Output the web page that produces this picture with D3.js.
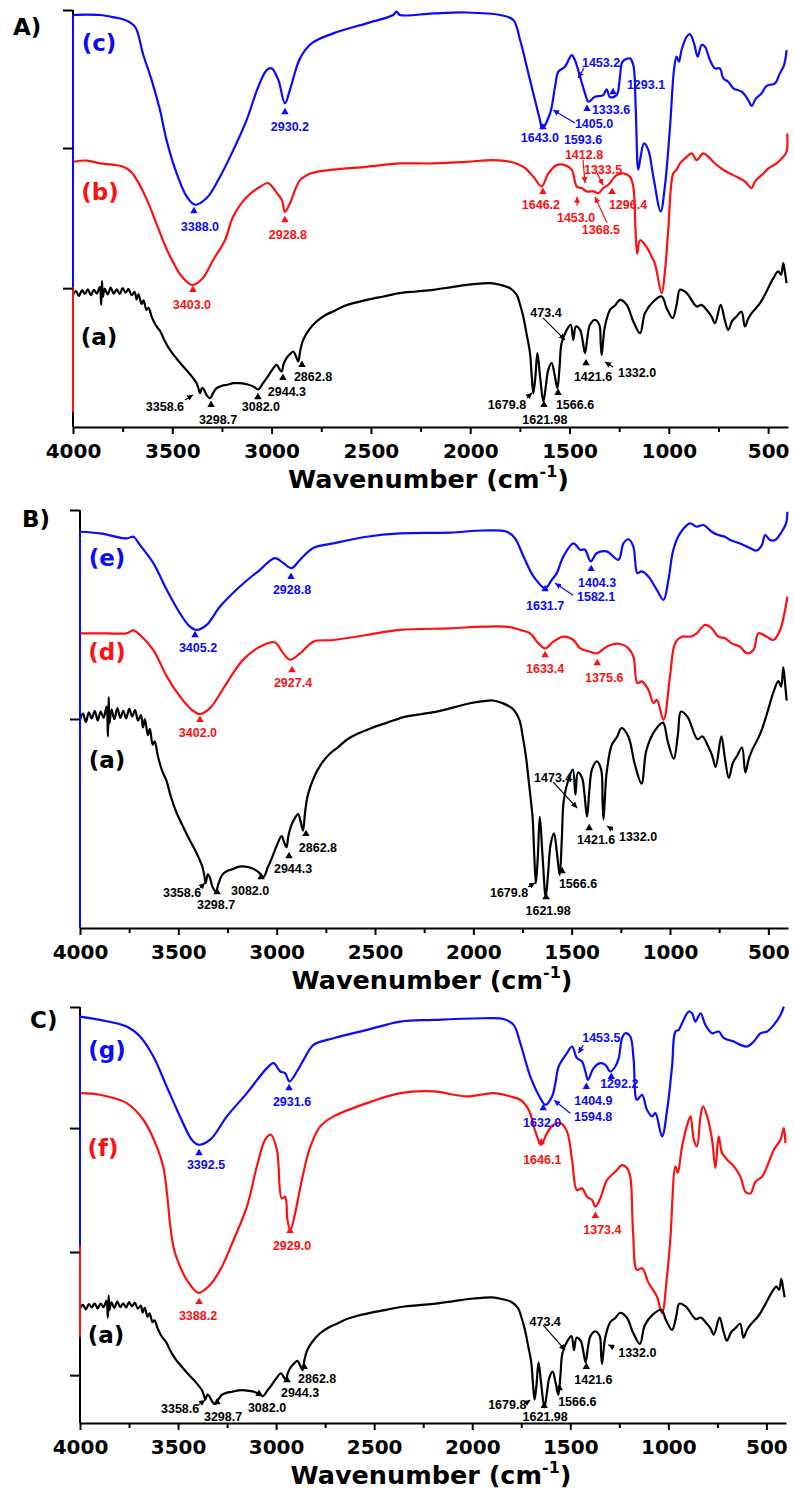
<!DOCTYPE html>
<html>
<head>
<meta charset="utf-8">
<script src="https://cdn.jsdelivr.net/npm/d3@7/dist/d3.min.js"></script>
<style>
body{margin:0;background:#fff}
svg{display:block}
</style>
</head>
<body>
<svg id="fig" width="793" height="1497"></svg>
<script>
// ---- spectra: [wavenumber cm-1, transmittance (a.u., stacked)] ----
// (a) shared reference spectrum, shown in all three panels
var specA = [[4000,31.7],[3985,32.6],[3970,31.4],[3955,32.8],[3940,31.9],[3925,33.0],[3910,31.6],[3895,32.9],[3880,32.0],[3865,33.6],[3858,29.3],[3854,35.0],[3850,31.2],[3840,33.2],[3825,31.8],[3810,33.4],[3795,32.0],[3780,33.0],[3765,31.9],[3750,33.3],[3735,32.2],[3720,33.1],[3705,31.6],[3690,32.4],[3680,30.6],[3670,31.8],[3655,29.5],[3645,30.4],[3630,28.1],[3620,28.6],[3605,26.6],[3590,25.0],[3579,24.1],[3560,22.9],[3540,20.8],[3512,18.5],[3480,16.5],[3445,14.5],[3410,12.6],[3378,10.5],[3368,9.2],[3361,8.1],[3350,9.4],[3341,9.0],[3325,7.5],[3310,6.9],[3295,8.1],[3277,9.3],[3250,9.9],[3227,10.1],[3190,10.5],[3160,10.5],[3120,10.2],[3092,9.7],[3067,9.0],[3045,10.4],[3025,11.7],[3000,13.5],[2975,14.9],[2962,14.0],[2950,13.3],[2940,15.0],[2925,16.5],[2905,17.6],[2891,18.1],[2878,17.0],[2866,15.7],[2855,18.5],[2841,20.9],[2810,23.4],[2774,25.3],[2730,26.8],[2690,27.7],[2640,28.9],[2589,29.7],[2520,30.5],[2438,31.3],[2354,32.1],[2270,32.5],[2186,32.9],[2100,33.5],[2018,34.1],[1950,34.4],[1900,34.5],[1850,34.1],[1800,33.3],[1766,31.7],[1750,29.5],[1733,26.5],[1715,22.0],[1699,17.7],[1690,12.0],[1682,8.1],[1672,12.0],[1662,17.7],[1648,12.0],[1632,6.1],[1620,9.5],[1607,13.7],[1590,15.3],[1575,12.5],[1561,9.3],[1550,14.5],[1540,20.1],[1514,23.3],[1494,24.5],[1481,20.9],[1468,24.1],[1447,23.3],[1435,21.0],[1422,17.7],[1410,21.5],[1397,24.5],[1372,25.7],[1350,24.5],[1343,20.0],[1338,17.3],[1330,21.0],[1322,24.1],[1296,28.1],[1270,29.2],[1246,30.5],[1212,29.3],[1179,25.3],[1145,22.5],[1120,27.3],[1078,30.1],[1036,31.3],[1011,28.5],[981,26.1],[960,29.5],[944,32.9],[910,32.1],[860,28.9],[835,29.3],[810,28.1],[785,26.5],[768,24.9],[739,29.3],[720,26.0],[701,23.3],[680,25.5],[659,26.5],[634,27.7],[617,24.1],[600,26.0],[583,27.3],[541,29.7],[508,32.5],[474,35.7],[449,37.3],[435,36.5],[424,39.3],[415,37.0],[407,34.5]];

var specB = [[4000,63.6],[3930,63.9],[3864,63.2],[3800,62.9],[3747,62.4],[3710,61.3],[3678,59.2],[3627,54.4],[3577,48.4],[3537,43.6],[3497,39.6],[3451,36.0],[3401,34.1],[3350,35.5],[3295,40.0],[3235,44.8],[3194,50.4],[3124,55.2],[3058,57.6],[3018,58.5],[2973,56.1],[2948,54.4],[2933,51.6],[2907,53.7],[2857,59.2],[2797,60.9],[2690,61.7],[2522,62.4],[2354,63.2],[2186,63.2],[2018,63.6],[1884,64.0],[1800,63.6],[1733,62.4],[1682,60.0],[1640,57.7],[1607,60.8],[1565,62.8],[1523,62.8],[1489,61.7],[1464,57.7],[1439,57.3],[1414,56.5],[1380,56.5],[1355,56.1],[1330,57.3],[1305,58.1],[1263,60.4],[1229,60.8],[1196,60.0],[1179,57.7],[1168,47.5],[1159,41.6],[1145,44.8],[1112,43.2],[1087,40.9],[1070,39.2],[1036,32.1],[1019,37.7],[1003,47.2],[978,60.8],[961,61.7],[944,63.2],[910,64.8],[885,65.6],[860,64.0],[827,65.6],[801,64.8],[768,63.2],[726,61.7],[692,60.8],[659,60.0],[617,58.9],[583,57.3],[566,58.9],[524,60.8],[499,62.0],[457,63.2],[424,64.8],[407,66.0],[404,70.4]];

var specC = [[4000,98.8],[3930,98.9],[3864,98.8],[3800,98.3],[3738,97.6],[3688,96.0],[3646,89.2],[3604,83.2],[3562,76.0],[3529,68.8],[3478,60.8],[3428,55.3],[3386,53.3],[3327,54.9],[3260,60.0],[3193,66.4],[3126,73.6],[3067,81.6],[3025,85.6],[3000,86.0],[2966,83.2],[2933,77.6],[2908,80.8],[2857,88.4],[2799,92.0],[2690,94.4],[2522,96.8],[2388,98.8],[2371,99.6],[2354,98.8],[2186,99.2],[2018,99.4],[1850,98.8],[1783,97.6],[1749,92.8],[1699,83.2],[1649,73.6],[1638,71.6],[1598,75.2],[1573,81.6],[1556,85.2],[1523,86.4],[1489,89.2],[1473,88.0],[1447,84.0],[1422,80.0],[1405,78.0],[1372,79.2],[1330,79.6],[1313,81.0],[1296,79.1],[1263,79.6],[1246,84.0],[1233,87.6],[1196,88.4],[1179,86.8],[1167,76.8],[1154,61.7],[1142,64.8],[1125,68.0],[1103,66.4],[1078,60.0],[1041,51.7],[1020,57.7],[994,72.0],[974,85.6],[961,88.8],[949,87.6],[936,90.4],[910,93.6],[894,94.2],[873,92.0],[855,88.8],[835,91.6],[818,91.2],[793,88.0],[768,86.0],[743,86.0],[726,83.6],[701,82.8],[675,81.2],[633,80.4],[600,78.4],[583,77.0],[561,78.8],[533,80.0],[508,81.8],[466,82.4],[441,84.8],[420,86.8],[407,90.4]];

var specD = [[4000,70.5],[3864,70.5],[3763,70.5],[3729,71.2],[3695,70.1],[3627,66.5],[3559,60.2],[3492,55.4],[3432,52.2],[3390,51.2],[3339,52.6],[3254,58.6],[3170,64.2],[3068,67.7],[3009,68.3],[2966,65.7],[2932,64.2],[2881,65.7],[2814,68.5],[2712,68.9],[2542,70.1],[2373,71.3],[2118,71.7],[1949,72.1],[1813,72.0],[1762,71.3],[1711,70.5],[1669,68.1],[1635,66.9],[1593,68.5],[1542,69.7],[1491,68.9],[1457,66.9],[1406,66.1],[1372,65.7],[1322,67.3],[1262,68.0],[1211,66.9],[1186,64.9],[1166,58.6],[1144,59.0],[1110,57.0],[1084,53.8],[1067,54.6],[1033,49.8],[1000,60.2],[974,68.1],[940,69.7],[898,69.7],[864,70.5],[822,72.5],[788,71.7],[754,69.7],[720,69.3],[686,68.1],[644,67.3],[610,65.7],[576,66.5],[550,70.5],[508,69.7],[474,68.9],[440,71.3],[415,76.1],[403,79.3]];

var specE = [[4000,94.8],[3898,94.4],[3763,93.2],[3729,93.6],[3695,91.6],[3627,87.3],[3559,80.9],[3492,75.3],[3441,72.1],[3407,71.3],[3356,72.5],[3288,76.9],[3187,81.7],[3085,85.7],[3009,88.5],[2966,87.3],[2924,86.1],[2881,88.1],[2814,90.9],[2712,92.0],[2542,93.6],[2373,94.4],[2118,94.6],[1949,95.1],[1830,94.8],[1788,93.2],[1745,88.9],[1694,84.1],[1635,81.3],[1601,83.3],[1576,84.9],[1542,88.9],[1491,92.0],[1457,90.5],[1432,90.5],[1403,87.7],[1372,89.7],[1322,90.1],[1262,88.1],[1237,92.0],[1211,93.0],[1186,91.2],[1166,84.9],[1144,85.3],[1110,84.1],[1067,80.9],[1033,78.5],[1008,83.3],[983,90.5],[949,94.4],[898,96.8],[864,96.0],[830,96.4],[788,94.8],[754,94.0],[720,93.6],[694,92.8],[644,92.0],[593,90.9],[559,90.3],[533,91.6],[516,94.0],[491,92.8],[466,92.8],[432,94.8],[410,96.8],[403,99.6]];

var specF = [[4000,79.3],[3898,78.9],[3762,76.9],[3677,72.9],[3609,66.5],[3575,61.5],[3556,55.0],[3540,47.5],[3522,42.0],[3500,38.8],[3470,35.6],[3438,33.2],[3396,31.3],[3345,32.8],[3285,36.8],[3217,44.0],[3149,52.0],[3098,61.7],[3056,68.1],[3027,69.3],[2996,65.7],[2971,54.0],[2954,54.4],[2942,48.8],[2928,46.4],[2903,50.4],[2869,58.4],[2826,66.4],[2775,71.3],[2707,73.7],[2537,76.9],[2367,79.3],[2197,79.7],[2027,78.5],[1891,79.3],[1806,78.5],[1755,77.7],[1712,75.3],[1678,70.1],[1649,66.9],[1619,69.7],[1585,71.7],[1551,72.1],[1517,70.1],[1491,63.3],[1466,56.0],[1440,56.4],[1415,54.4],[1389,53.6],[1372,52.0],[1347,54.0],[1313,58.4],[1270,60.4],[1236,62.0],[1211,61.3],[1194,59.2],[1180,46.0],[1160,36.8],[1134,37.2],[1100,33.6],[1078,32.0],[1058,30.4],[1032,26.4],[1007,35.2],[990,44.0],[964,61.7],[952,60.1],[930,66.5],[901,72.1],[887,73.7],[870,68.1],[854,66.5],[836,73.7],[823,76.1],[802,73.7],[777,68.1],[760,61.3],[743,68.9],[726,64.9],[700,63.3],[666,61.7],[632,59.2],[607,55.6],[581,55.2],[556,58.0],[522,59.2],[496,61.7],[462,65.7],[428,68.1],[411,70.9],[403,67.3]];

var specG = [[4000,97.7],[3898,96.9],[3762,95.3],[3694,92.9],[3626,88.1],[3558,80.9],[3490,73.7],[3430,68.1],[3396,66.9],[3336,68.1],[3251,73.7],[3149,79.3],[3047,85.3],[3013,86.5],[2979,84.5],[2954,84.1],[2932,82.1],[2894,84.5],[2860,87.3],[2809,90.9],[2707,92.5],[2537,94.5],[2367,96.5],[2197,96.9],[1942,97.3],[1840,97.1],[1789,95.7],[1755,91.3],[1704,83.3],[1653,78.1],[1627,76.5],[1593,78.5],[1576,81.7],[1559,85.7],[1517,88.9],[1491,90.5],[1466,87.7],[1440,86.9],[1423,84.5],[1410,82.5],[1381,85.3],[1347,86.5],[1321,86.1],[1296,84.5],[1270,85.7],[1253,87.7],[1236,92.5],[1219,93.7],[1194,92.9],[1177,87.3],[1160,77.7],[1134,78.9],[1109,75.3],[1083,73.7],[1066,74.5],[1032,68.9],[1006,75.3],[981,85.7],[964,94.1],[947,94.5],[930,96.1],[896,98.9],[879,98.5],[862,96.5],[836,98.5],[811,95.7],[777,93.7],[743,94.1],[717,92.5],[666,91.7],[632,90.9],[598,90.5],[564,91.7],[530,93.7],[496,94.1],[462,95.7],[428,98.1],[411,100.1]];

// axis ticks
var xMajor = [4000,3500,3000,2500,2000,1500,1000,500];
var xMinor = [3750,3250,2750,2250,1750,1250,750];

// peak labels: [text, colour, kind, wn, value, dx, dy, ax, ay]
var notesA = [
  ["3388.0","b","tri",3391,51.8,6,16],
  ["2930.2","b","tri",2933,75.5,5,15],
  ["1643.0","b","tri",1634,71.9,-3,11],
  ["1405.0","b","arr",1583,76.0,41,14,22,13],
  ["1593.6","b","txt",1583,76.0,30,30],
  ["1333.6","b","tri",1412,76.3,24,1],
  ["1453.2","b","arr",1457,83.7,23,-15,6,-10],
  ["1293.1","b","tri",1281,80.3,33,-7],
  ["3403.0","r","tri",3396,32.9,-1,15],
  ["2928.8","r","tri",2933,49.6,3,15],
  ["1646.2","r","tri",1634,56.4,-2,13],
  ["1453.0","r","arr",1462,55.2,-1,21,0,9],
  ["1412.8","r","arr",1422,58.5,-1,-28,-2,-23],
  ["1333.5","r","arr",1331,58.0,0,-15,-6,-12],
  ["1368.5","r","arr",1372,55.2,6,33,12,26],
  ["1296.4","r","tri",1286,56.4,16,13],
  ["3358.6","k","arr",3396,7.7,-28,12,-8,5],
  ["3298.7","k","tri",3305,5.3,7,15],
  ["3082.0","k","tri",3069,7.2,3,10],
  ["2944.3","k","tri",2943,11.8,4,14],
  ["2862.8","k","tri",2847,14.9,11,12],
  ["473.4","k","arr",1523,20.9,-19,-27,-22,-22],
  ["1679.8","k","arr",1689,8.2,-25,12,-5,5],
  ["1621.98","k","tri",1629,5.3,1,15],
  ["1566.6","k","tri",1558,8.2,17,12],
  ["1421.6","k","tri",1417,15.3,7,14],
  ["1332.0","k","arr",1321,15.6,32,11,8,5]
];
var notesB = [
  ["3405.2","b","tri",3415,70.1,3,13],
  ["2928.8","b","tri",2927,84.0,1,13],
  ["1631.7","b","tri",1635,81.1,0,17],
  ["1582.1","b","arr",1584,82.5,41,14,18,12],
  ["1404.3","b","tri",1401,85.9,6,14],
  ["3402.0","r","tri",3390,49.8,-2,13],
  ["2927.4","r","tri",2922,61.7,1,13],
  ["1633.4","r","tri",1635,65.3,0,14],
  ["1375.6","r","tri",1370,63.4,7,15],
  ["3358.6","k","arr",3364,10.8,-23,10,-5,5],
  ["3298.7","k","tri",3303,8.6,-1,13],
  ["3082.0","k","tri",3079,12.2,-11,14],
  ["2944.3","k","tri",2937,17.2,4,13],
  ["2862.8","k","tri",2851,22.5,12,14],
  ["1473.4","k","arr",1472,28.7,-24,-30,-24,-26],
  ["1421.6","k","tri",1411,23.9,7,12],
  ["1332.0","k","arr",1320,24.4,31,11,6,4],
  ["1679.8","k","arr",1686,10.8,-26,10,-7,4],
  ["1621.98","k","tri",1630,7.4,2,14],
  ["1566.6","k","tri",1549,13.6,16,13]
];
var notesC = [
  ["3392.5","b","tri",3393,64.9,7,12],
  ["2931.6","b","tri",2934,80.5,3,14],
  ["1632.0","b","tri",1638,75.7,-1,15],
  ["1594.8","b","arr",1582,77.6,39,17,16,13],
  ["1404.9","b","tri",1418,80.8,7,14],
  ["1292.2","b","tri",1291,83.2,8,7],
  ["1453.5","b","arr",1459,88.9,23,-15,5,-8],
  ["2929.0","r","tri",2929,46.2,2,15],
  ["3388.2","r","tri",3393,29.1,-1,14],
  ["1646.1","r","tri",1648,67.5,1,18],
  ["1373.4","r","tri",1372,49.8,7,14],
  ["3358.6","k","arr",3362,5.5,-25,9,-7,5],
  ["3298.7","k","tri",3301,5.0,6,15],
  ["3082.0","k","tri",3087,7.0,8,14],
  ["2944.3","k","tri",2944,10.3,13,13],
  ["2862.8","k","tri",2857,13.5,13,12],
  ["473.4","k","arr",1526,17.5,-20,-28,-22,-25],
  ["1332.0","k","arr",1306,18.8,29,8,6,3],
  ["1421.6","k","tri",1418,13.5,7,13],
  ["1566.6","k","tri",1556,8.4,18,14],
  ["1679.8","k","arr",1704,5.5,-23,5,-6,4],
  ["1621.98","k","tri",1633,4.1,1,11]
];

var COL = {b:"#0a0aff", r:"#ff1010", k:"#000"};
var labelFont = "'DejaVu Sans', sans-serif";
var noteFont = "'Liberation Sans', Arial, sans-serif";

// panel layout
var panels = [
  {name:"A)", nx:13, ny:35, left:73, right:788, top:10, base:427, yTicks:[100,66.9,33.3],
   seg:[[100,98.8,"k"],[98.8,33.6,"b"],[33.6,3.6,"r"],[3.6,0,"k"]], aK:1, aS:0,
   curves:[[specC,"b","(c)",99,43],[specB,"r","(b)",100,192],[specA,"k","(a)",99,337]], notes:notesA},
  {name:"B)", nx:22, ny:527, left:80, right:788, top:510, base:928, yTicks:[100,50],
   seg:[[100,95.2,"k"],[95.2,0,"b"]], aK:1.656, aS:-2.7,
   curves:[[specE,"b","(e)",107,558],[specD,"r","(d)",107,652],[specA,"k","(a)",107,760]], notes:notesB},
  {name:"C)", nx:30, ny:1028, left:80, right:786, top:1007, base:1423, yTicks:[100,70.9,41.1,11.5],
   seg:[[100,98.1,"k"],[98.1,42.8,"b"],[42.8,20.7,"r"],[20.7,0,"k"]], aK:0.93, aS:-1.9,
   curves:[[specG,"b","(g)",107,1050],[specF,"r","(f)",103,1148],[specA,"k","(a)",106,1335]], notes:notesC}
];

var svg = d3.select("#fig");
var defs = svg.append("defs");
Object.keys(COL).forEach(function(k){
  defs.append("marker").attr("id","ah"+k)
    .attr("viewBox","0 0 6 6").attr("refX",6).attr("refY",3)
    .attr("markerWidth",6).attr("markerHeight",6)
    .attr("markerUnits","userSpaceOnUse").attr("orient","auto")
    .append("path").attr("d","M0,0L6,3L0,6Z").attr("fill",COL[k]);
});

panels.forEach(function(p){
  var g = svg.append("g");
  var x = d3.scaleLinear().domain([4000,400]).range([p.left,p.right]);
  var y = d3.scaleLinear().domain([0,100]).range([p.base,p.top]);

  // spectra
  p.curves.forEach(function(c){
    var shared = c[0]===specA;
    var k = shared ? p.aK : 1, s = shared ? p.aS : 0;
    var line = d3.line().curve(d3.curveCatmullRom.alpha(0.5))
      .x(function(d){return x(d[0]);}).y(function(d){return y(k*d[1]+s);});
    g.append("path").datum(c[0])
      .attr("d",line).attr("fill","none")
      .attr("stroke",COL[c[1]]).attr("stroke-width",2.2)
      .attr("stroke-linejoin","round");
    g.append("text").attr("x",c[3]).attr("y",c[4])
      .attr("text-anchor","middle").attr("dominant-baseline","central")
      .attr("font-family",labelFont).attr("font-weight","bold")
      .attr("font-size",23).attr("fill",COL[c[1]]).text(c[2]);
  });

  // peak annotations
  p.notes.forEach(function(n){
    var px = x(n[3]), py = y(n[4]), col = COL[n[1]];
    if(n[2]==="tri"){
      g.append("path").attr("d",d3.symbol(d3.symbolTriangle,24)())
        .attr("transform","translate("+px+","+py+")").attr("fill",col);
    } else if(n[2]==="arr"){
      g.append("line").attr("x1",px+n[7]).attr("y1",py+n[8])
        .attr("x2",px).attr("y2",py).attr("stroke",col).attr("stroke-width",1.2)
        .attr("marker-end","url(#ah"+n[1]+")");
    }
    g.append("text").attr("x",px+n[5]).attr("y",py+n[6])
      .attr("text-anchor","middle").attr("dominant-baseline","central")
      .attr("font-family",noteFont).attr("font-weight","bold")
      .attr("font-size",12.5).attr("fill",col).text(n[0]);
  });

  // x axis
  var xa = g.append("g").attr("transform","translate(0,"+p.base+")")
    .call(d3.axisBottom(x).tickValues(xMajor).tickSize(7).tickSizeOuter(0).tickPadding(10).tickFormat(d3.format("d")));
  xa.select(".domain").attr("stroke-width",2);
  xa.selectAll(".tick line").attr("stroke-width",2);
  xa.selectAll(".tick text").attr("font-family",labelFont).attr("font-weight","bold").attr("font-size",20);
  var xm = g.append("g").attr("transform","translate(0,"+p.base+")")
    .call(d3.axisBottom(x).tickValues(xMinor).tickSize(5).tickFormat(""));
  xm.select(".domain").remove();
  xm.selectAll(".tick line").attr("stroke-width",2);

  // y axis: coloured segments plus left ticks
  p.seg.forEach(function(s){
    g.append("line").attr("x1",p.left).attr("x2",p.left)
      .attr("y1",y(s[0])).attr("y2",y(s[1]))
      .attr("stroke",COL[s[2]]).attr("stroke-width",2);
  });
  var ya = g.append("g").attr("transform","translate("+p.left+",0)")
    .call(d3.axisLeft(y).tickValues(p.yTicks).tickSize(10).tickFormat(""));
  ya.select(".domain").remove();
  ya.selectAll(".tick line").attr("stroke-width",2);

  // axis title
  var t = g.append("text").attr("x",(p.left+p.right)/2-2).attr("y",p.base+61)
    .attr("text-anchor","middle").attr("font-family",labelFont)
    .attr("font-weight","bold").attr("font-size",25.5);
  t.append("tspan").text("Wavenumber (cm");
  t.append("tspan").attr("dy",-11).attr("font-size",16).text("-1");
  t.append("tspan").attr("dy",11).text(")");

  // panel letter
  g.append("text").attr("x",p.nx).attr("y",p.ny)
    .attr("font-family",labelFont).attr("font-weight","bold")
    .attr("font-size",23).text(p.name);
});
</script>
</body>
</html>
